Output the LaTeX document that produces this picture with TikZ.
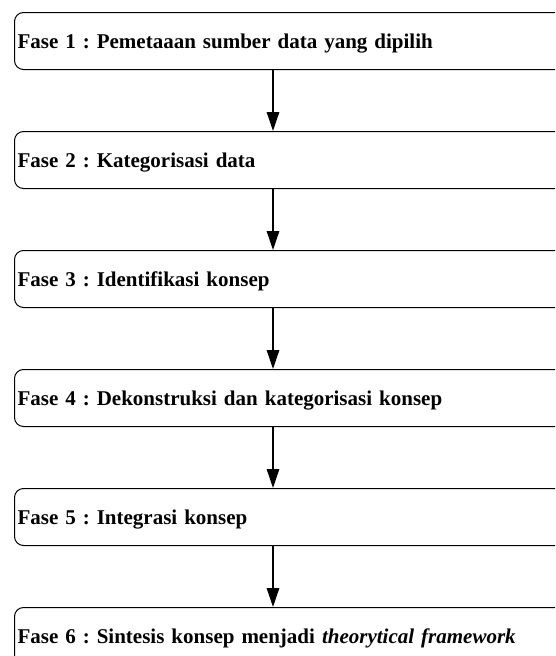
\documentclass[tikz,border=0pt]{standalone}
\usepackage{fontspec}
\setmainfont{Liberation Serif}
\frenchspacing
\usetikzlibrary{positioning,arrows.meta}

\begin{document}
\begin{tikzpicture}[x=1pt, y=1pt, node distance=61pt,
  every node/.style = {shape=rectangle, rounded corners=9pt, draw,
    line width=1pt, anchor=north west, text width=560pt, align=left,
    minimum height=57pt, inner xsep=3pt, text height=14pt, text depth=0pt,
    font=\fontsize{21}{25}\selectfont\bfseries},
  flow/.style = {line width=1.4pt, -{Triangle[length=19pt, width=12.5pt]}}]
  \useasboundingbox (0,0) rectangle (555,-656);
  \clip (0,0) rectangle (555,-656);
  \coordinate (ax) at (273,0);
  \node (f1) at (14,-12) {Fase 1 : Pemetaaan sumber data yang dipilih};
  \node (f2) [below=of f1.south west, anchor=north west] {Fase 2 : Kategorisasi data};
  \node (f3) [below=of f2.south west, anchor=north west] {Fase 3 : Identifikasi konsep};
  \node (f4) [below=of f3.south west, anchor=north west] {Fase 4 : Dekonstruksi dan kategorisasi konsep};
  \node (f5) [below=of f4.south west, anchor=north west] {Fase 5 : Integrasi konsep};
  \node (f6) [below=of f5.south west, anchor=north west] {Fase 6 : Sintesis konsep menjadi \textit{theorytical framework}};

  \draw[flow] (f1.south -| ax) -- (f2.north -| ax);
  \draw[flow] (f2.south -| ax) -- (f3.north -| ax);
  \draw[flow] (f3.south -| ax) -- (f4.north -| ax);
  \draw[flow] (f4.south -| ax) -- (f5.north -| ax);
  \draw[flow] (f5.south -| ax) -- (f6.north -| ax);

\end{tikzpicture}
\end{document}
